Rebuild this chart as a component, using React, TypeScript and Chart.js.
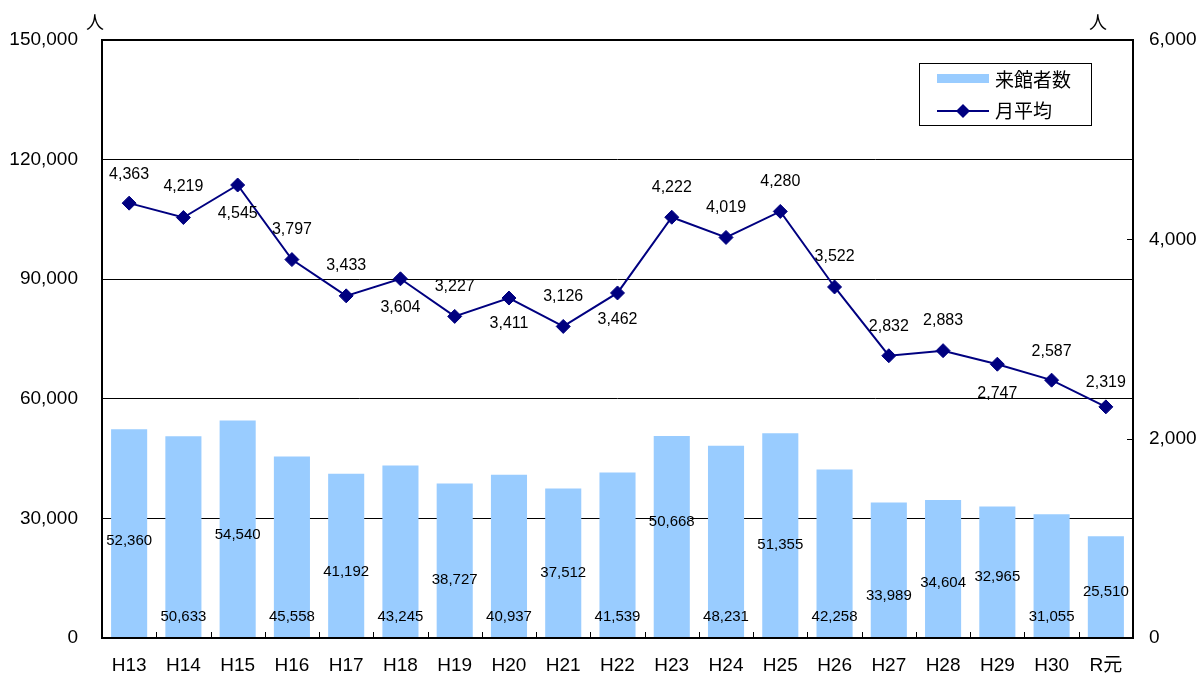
import React, { useEffect, useRef } from "react";
import { Chart, registerables } from "chart.js";

Chart.register(...registerables);

const categories = ["H13", "H14", "H15", "H16", "H17", "H18", "H19", "H20", "H21", "H22", "H23", "H24", "H25", "H26", "H27", "H28", "H29", "H30", "R元"];
const visitors = [52360, 50633, 54540, 45558, 41192, 43245, 38727, 40937, 37512, 41539, 50668, 48231, 51355, 42258, 33989, 34604, 32965, 31055, 25510];
const monthlyAvg = [4363, 4219, 4545, 3797, 3433, 3604, 3227, 3411, 3126, 3462, 4222, 4019, 4280, 3522, 2832, 2883, 2747, 2587, 2319];
const leftTicks = [0, 30000, 60000, 90000, 120000, 150000];
const rightTicks = [0, 2000, 4000, 6000];
const seriesNames = ["来館者数", "月平均"];
const axisUnit = "人";

// label placement (left-axis units for bar labels, pixel offsets for line labels)
const barLabelAt = [24300, 5300, 25800, 5300, 16600, 5300, 14500, 5300, 16300, 5300, 29100, 5300, 23300, 5300, 10500, 13800, 15300, 5300, 11500];
const lineLabelDy = [-29, -31, 29, -30, -30, 29, -30, 26, -30, 27, -30, -30, -30, -30, -29, -30, 29, -29, -24];

const FONT = "'Liberation Sans', Arial, 'Noto Sans CJK JP', sans-serif";
const CJK = "'Noto Sans CJK JP', sans-serif";
const BAR_COLOR = "#99CCFF";
const LINE_COLOR = "#000080";

const fmt = (v: number) => v.toLocaleString("en-US");

const overlay = {
  id: "overlay",
  afterDatasetsDraw(chart: any) {
    const ctx = chart.ctx;
    const { left, right, top, bottom } = chart.chartArea;
    const y = chart.scales.y;
    const y1 = chart.scales.y1;
    ctx.save();

    // frame
    ctx.strokeStyle = "#000";
    ctx.lineWidth = 2;
    ctx.strokeRect(left, top, right - left, bottom - top);

    // x tick marks (inward) at category boundaries
    ctx.lineWidth = 1;
    const n = categories.length;
    const step = (right - left) / n;
    ctx.beginPath();
    for (let k = 1; k < n; k++) {
      const px = Math.round(left + step * k) + 0.5;
      ctx.moveTo(px, bottom);
      ctx.lineTo(px, bottom - 6);
    }
    // right axis tick marks (inward)
    rightTicks.forEach((v) => {
      const py = Math.round(y1.getPixelForValue(v)) + 0.5;
      ctx.moveTo(right, py);
      ctx.lineTo(right - 6, py);
    });
    ctx.stroke();

    // bar labels
    ctx.fillStyle = "#000";
    ctx.textAlign = "center";
    ctx.textBaseline = "middle";
    ctx.font = `15px ${FONT}`;
    const barMeta = chart.getDatasetMeta(0);
    barMeta.data.forEach((el: any, i: number) => {
      ctx.fillText(fmt(visitors[i]), el.x, y.getPixelForValue(barLabelAt[i]));
    });

    // line labels
    ctx.font = `16px ${FONT}`;
    const lineMeta = chart.getDatasetMeta(1);
    lineMeta.data.forEach((el: any, i: number) => {
      ctx.fillText(fmt(monthlyAvg[i]), el.x, el.y + lineLabelDy[i]);
    });

    // axis unit labels
    ctx.font = `18px ${CJK}`;
    ctx.fillText(axisUnit, 95, 22);
    ctx.fillText(axisUnit, 1098, 22);

    // legend
    const lx = 919, ly = 63, lw = 172, lh = 62;
    ctx.fillStyle = "#fff";
    ctx.fillRect(lx, ly, lw, lh);
    ctx.strokeStyle = "#000";
    ctx.lineWidth = 1;
    ctx.strokeRect(lx + 0.5, ly + 0.5, lw, lh);
    ctx.fillStyle = BAR_COLOR;
    ctx.fillRect(937, 74, 52, 9);
    ctx.strokeStyle = LINE_COLOR;
    ctx.lineWidth = 2;
    ctx.beginPath();
    ctx.moveTo(937, 111);
    ctx.lineTo(989, 111);
    ctx.stroke();
    ctx.fillStyle = LINE_COLOR;
    ctx.beginPath();
    ctx.moveTo(963 - 7, 111);
    ctx.lineTo(963, 111 - 7);
    ctx.lineTo(963 + 7, 111);
    ctx.lineTo(963, 111 + 7);
    ctx.closePath();
    ctx.fill();
    ctx.fillStyle = "#000";
    ctx.textAlign = "left";
    ctx.font = `19px ${CJK}`;
    ctx.fillText(seriesNames[0], 995, 80);
    ctx.fillText(seriesNames[1], 995, 111);

    ctx.restore();
  },
};

export default function App() {
  const ref = useRef<HTMLCanvasElement>(null);
  useEffect(() => {
    document.body.style.margin = "0";
    if (!ref.current) return;
    const chart = new Chart(ref.current, {
      type: "bar",
      data: {
        labels: categories,
        datasets: [
          {
            type: "bar",
            label: seriesNames[0],
            data: visitors,
            yAxisID: "y",
            backgroundColor: BAR_COLOR,
            barPercentage: 0.665,
            categoryPercentage: 1,
            order: 2,
          },
          {
            type: "line",
            label: seriesNames[1],
            data: monthlyAvg,
            yAxisID: "y1",
            borderColor: LINE_COLOR,
            borderWidth: 2,
            pointStyle: "rectRot",
            pointRadius: 7,
            pointBackgroundColor: LINE_COLOR,
            pointBorderColor: LINE_COLOR,
            pointBorderWidth: 1,
            tension: 0,
            order: 1,
          } as any,
        ],
      },
      options: {
        responsive: false,
        animation: false,
        layout: { padding: { top: 40, left: 0, right: 0, bottom: 0 } },
        plugins: { legend: { display: false }, tooltip: { enabled: false } },
        scales: {
          x: {
            grid: { display: false },
            border: { display: false },
            ticks: { font: { size: 19, family: FONT }, color: "#000", padding: 8, maxRotation: 0, autoSkip: false },
            afterFit: (s: any) => { s.height = 36; },
          },
          y: {
            position: "left",
            min: 0,
            max: 150000,
            afterBuildTicks: (s: any) => { s.ticks = leftTicks.map((v) => ({ value: v })); },
            grid: { color: "#000", lineWidth: 1, drawTicks: false },
            border: { display: false },
            ticks: { font: { size: 19, family: FONT }, color: "#000", padding: 24, callback: (v: any) => fmt(Number(v)) },
            afterFit: (s: any) => { s.width = 102; },
          },
          y1: {
            position: "right",
            min: 0,
            max: 6000,
            afterBuildTicks: (s: any) => { s.ticks = rightTicks.map((v) => ({ value: v })); },
            grid: { drawOnChartArea: false, drawTicks: false },
            border: { display: false },
            ticks: { font: { size: 19, family: FONT }, color: "#000", padding: 16, callback: (v: any) => fmt(Number(v)) },
            afterFit: (s: any) => { s.width = 67; },
          },
        },
      },
      plugins: [overlay],
    });
    return () => chart.destroy();
  }, []);
  return <canvas ref={ref} width={1200} height={674} style={{ display: "block" }} />;
}
